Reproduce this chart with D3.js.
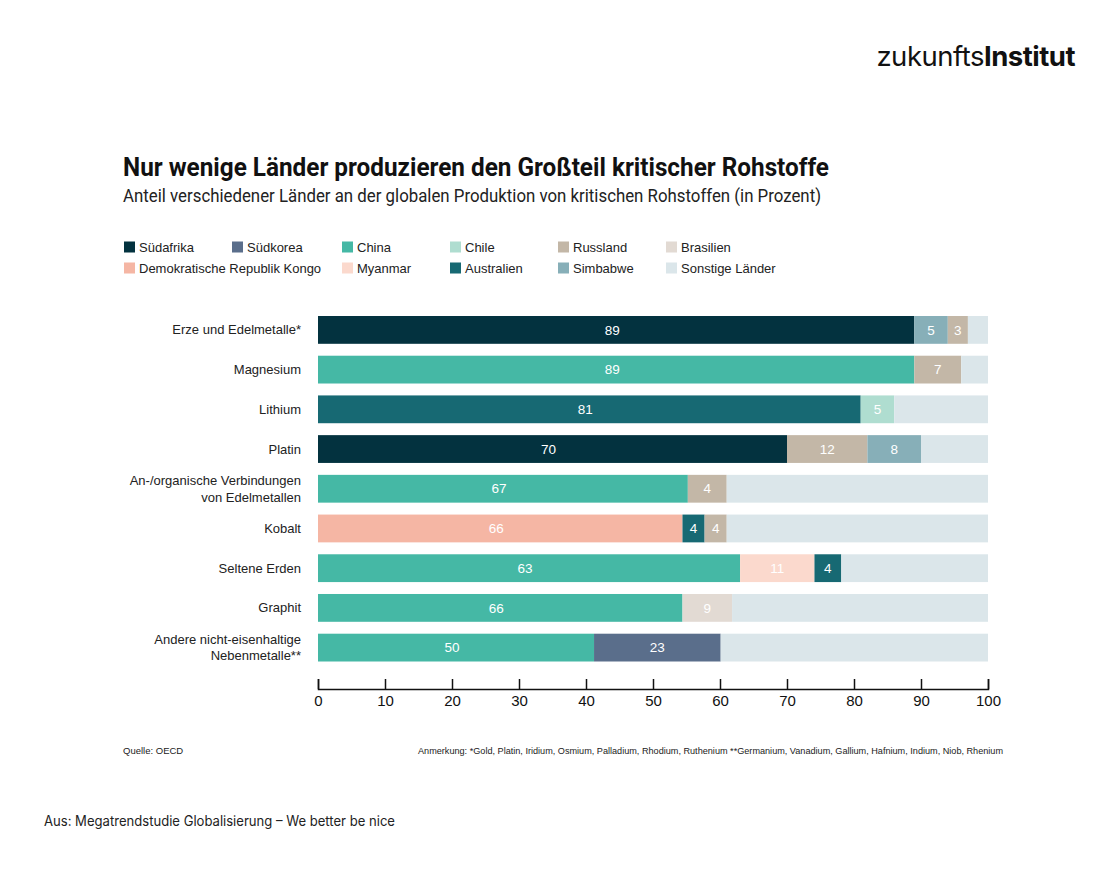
<!DOCTYPE html>
<html>
<head>
<meta charset="utf-8">
<script src="https://cdn.jsdelivr.net/npm/d3@7"></script>
<style>
  html, body { margin: 0; padding: 0; background: #fff; }
  svg { display: block; }
</style>
</head>
<body>
<svg id="chart" width="1120" height="870"></svg>
<script>
// ---------- data ----------
const categories = [
  "Erze und Edelmetalle*",
  "Magnesium",
  "Lithium",
  "Platin",
  "An-/organische Verbindungen\nvon Edelmetallen",
  "Kobalt",
  "Seltene Erden",
  "Graphit",
  "Andere nicht-eisenhaltige\nNebenmetalle**"
];
const countries = [
  "Südafrika", "Südkorea", "China", "Chile", "Russland", "Brasilien",
  "Demokratische Republik Kongo", "Myanmar", "Australien", "Simbabwe", "Sonstige Länder"
];
const countryColors = [
  "#03323f", "#5a6e8b", "#45b8a5", "#afddd0", "#c3b7a7", "#e2dad3",
  "#f5b6a4", "#fbd9cd", "#176973", "#87afb8", "#dbe6ea"
];
// legend grid slot (column index, row index) for each country
const legendCol = [0, 1, 2, 3, 4, 5, 0, 2, 3, 4, 5];
const legendRow = [0, 0, 0, 0, 0, 0, 1, 1, 1, 1, 1];
// segments per bar (in drawing order), lengths as shown in the picture
const segCountries = [
  ["Südafrika", "Simbabwe", "Russland"],
  ["China", "Russland"],
  ["Australien", "Chile"],
  ["Südafrika", "Russland", "Simbabwe"],
  ["China", "Russland"],
  ["Demokratische Republik Kongo", "Australien", "Russland"],
  ["China", "Myanmar", "Australien"],
  ["China", "Brasilien"],
  ["China", "Südkorea"]
];
const segValues = [
  [89, 5, 3],
  [89, 7],
  [81, 5],
  [70, 12, 8],
  [55.2, 5.8],
  [54.4, 3.3, 3.3],
  [63, 11.1, 4],
  [54.4, 7.4],
  [41.2, 18.9]
];
// numbers printed in the segments
const segLabels = [
  ["89", "5", "3"],
  ["89", "7"],
  ["81", "5"],
  ["70", "12", "8"],
  ["67", "4"],
  ["66", "4", "4"],
  ["63", "11", "4"],
  ["66", "9"],
  ["50", "23"]
];
const xTicks = [0, 10, 20, 30, 40, 50, 60, 70, 80, 90, 100];

// ---------- drawing ----------
const svg = d3.select("#chart");
svg.append("rect").attr("width", 1120).attr("height", 870).attr("fill", "#fff");

const sans = "'Liberation Sans', Arial, Helvetica, sans-serif";
const colorOf = d3.scaleOrdinal().domain(countries).range(countryColors);

// logo
const logo = svg.append("text")
  .attr("x", 1075).attr("y", 66)
  .attr("text-anchor", "end")
  .attr("font-family", "Inter, 'Liberation Sans', sans-serif")
  .attr("font-size", 27.5)
  .attr("fill", "#111")
  .attr("letter-spacing", -0.5);
logo.append("tspan").attr("font-weight", 400).text("zukunfts");
logo.append("tspan").attr("font-weight", 700).text("Institut");

// title & subtitle
svg.append("text")
  .attr("x", 123).attr("y", 176)
  .attr("font-family", "Roboto, 'Open Sans', sans-serif")
  .attr("font-weight", 700)
  .attr("font-size", 25)
  .attr("fill", "#111")
  .attr("textLength", 706)
  .attr("lengthAdjust", "spacingAndGlyphs")
  .text("Nur wenige Länder produzieren den Großteil kritischer Rohstoffe");

svg.append("text")
  .attr("x", 123).attr("y", 202)
  .attr("font-family", "Roboto, 'Open Sans', sans-serif")
  .attr("font-weight", 400)
  .attr("font-size", 17.5)
  .attr("fill", "#222")
  .attr("textLength", 698)
  .attr("lengthAdjust", "spacingAndGlyphs")
  .text("Anteil verschiedener Länder an der globalen Produktion von kritischen Rohstoffen (in Prozent)");

// legend
const legendColX = [124, 232, 342, 450, 558, 666];
const legendRowY = [247, 268];
const legend = svg.append("g");
countries.forEach((c, i) => {
  const g = legend.append("g")
    .attr("transform", `translate(${legendColX[legendCol[i]]},${legendRowY[legendRow[i]]})`);
  g.append("rect").attr("x", 0).attr("y", -5.5).attr("width", 11).attr("height", 11)
    .attr("fill", colorOf(c));
  g.append("text").attr("x", 15).attr("y", 4.5)
    .attr("font-family", sans).attr("font-size", 13).attr("fill", "#222")
    .text(c);
});

// scales
const x = d3.scaleLinear().domain([0, 100]).range([318, 988]);
const y = d3.scaleBand().domain(categories).range([316, 661.5]).paddingInner(0.3).paddingOuter(0);
const bh = y.bandwidth();

// bars
const bars = svg.append("g");
categories.forEach((cat, ci) => {
  const g = bars.append("g").attr("transform", `translate(0,${y(cat)})`);
  let acc = 0;
  const segs = segCountries[ci].map((c, j) => {
    const s = { country: c, x0: acc, x1: acc + segValues[ci][j], label: segLabels[ci][j], first: j === 0 };
    acc += segValues[ci][j];
    return s;
  });
  segs.push({ country: "Sonstige Länder", x0: acc, x1: 100, label: null });
  g.selectAll("rect").data(segs).join("rect")
    .attr("x", d => x(d.x0))
    .attr("y", 0)
    .attr("width", d => x(d.x1) - x(d.x0))
    .attr("height", bh)
    .attr("fill", d => colorOf(d.country));
  g.selectAll("text").data(segs.filter(d => d.label)).join("text")
    .attr("x", d => (x(d.x0) + x(d.x1)) / 2 - (d.first ? 4 : 0))
    .attr("y", bh / 2 + 4.7)
    .attr("text-anchor", "middle")
    .attr("font-family", sans).attr("font-size", 13.5)
    .attr("fill", "#fff")
    .text(d => d.label);

  // category label
  const lines = cat.split("\n");
  const lab = svg.append("text")
    .attr("text-anchor", "end")
    .attr("font-family", sans).attr("font-size", 13)
    .attr("fill", "#222");
  const cy = y(cat) + bh / 2;
  lines.forEach((ln, li) => {
    lab.append("tspan")
      .attr("x", 301)
      .attr("y", cy + 4.5 + (li - (lines.length - 1) / 2) * 16.5)
      .text(ln);
  });
});

// axis
const axis = d3.axisBottom(x).tickValues(xTicks).tickSize(-10).tickPadding(6).tickFormat(d3.format("d"));
const ax = svg.append("g").attr("transform", "translate(0,689)").call(axis);
ax.select(".domain").attr("stroke", "#111").attr("stroke-width", 1.5);
ax.selectAll(".tick line").attr("stroke", "#111").attr("stroke-width", 1.5);
ax.selectAll(".tick text").attr("font-family", sans).attr("font-size", 15).attr("fill", "#111");

// notes
svg.append("text").attr("x", 123).attr("y", 754)
  .attr("font-family", sans).attr("font-size", 9.5).attr("fill", "#222")
  .text("Quelle: OECD");
svg.append("text").attr("x", 1003).attr("y", 754)
  .attr("text-anchor", "end")
  .attr("font-family", sans).attr("font-size", 9.5).attr("fill", "#222")
  .attr("textLength", 585).attr("lengthAdjust", "spacingAndGlyphs")
  .text("Anmerkung: *Gold, Platin, Iridium, Osmium, Palladium, Rhodium, Ruthenium **Germanium, Vanadium, Gallium, Hafnium, Indium, Niob, Rhenium");
svg.append("text").attr("x", 44).attr("y", 826)
  .attr("font-family", "Inter, 'Liberation Sans', sans-serif").attr("font-size", 14).attr("fill", "#222")
  .attr("textLength", 351).attr("lengthAdjust", "spacingAndGlyphs")
  .text("Aus: Megatrendstudie Globalisierung – We better be nice");
</script>
</body>
</html>
